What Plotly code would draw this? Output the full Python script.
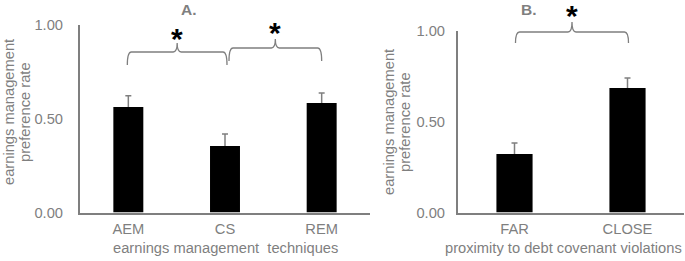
import plotly.graph_objects as go

# ---------------- data ----------------
cat_a = ["AEM", "CS", "REM"]
val_a = [0.563, 0.355, 0.584]
err_a = [0.060, 0.064, 0.053]

cat_b = ["FAR", "CLOSE"]
val_b = [0.322, 0.686]
err_b = [0.061, 0.055]

y_tickvals = [0.0, 0.5, 1.0]
y_ticktext = ["0.00", "0.50", "1.00"]

sig_a = [(0, 1), (1, 2)]
sig_b = [(0, 1)]

title_a = "A."
title_b = "B."
ytitle_l1 = "earnings management"
ytitle_l2 = "preference rate"
xtitle_a = "earnings management  techniques"
xtitle_b = "proximity to debt covenant violations"

# ---------------- style ----------------
W, H = 685, 261
GRAY = "#7f7f7f"
FONT = "Liberation Sans, Arial, sans-serif"
FS = 14.7

xa_dom = [80 / W, 370 / W]
xb_dom = [458 / W, 684 / W]
ya_dom = [1 - 212.5 / H, 1 - 25 / H]
yb_dom = [1 - 212.5 / H, 1 - 31 / H]


def px_x(dom, i, n):
    return (dom[0] + (i + 0.5) / n * (dom[1] - dom[0])) * W


def fx(p):
    return p / W


def fy(p):
    return 1 - p / H


def brace_path(x0, x1, yh, yb, yp, r=4):
    xm = (x0 + x1) / 2
    pts = [
        f"M{fx(x0)},{fy(yb)}",
        f"Q{fx(x0)},{fy(yh)} {fx(x0 + r)},{fy(yh)}",
        f"L{fx(xm - r)},{fy(yh)}",
        f"Q{fx(xm)},{fy(yh)} {fx(xm)},{fy(yp)}",
        f"Q{fx(xm)},{fy(yh)} {fx(xm + r)},{fy(yh)}",
        f"L{fx(x1 - r)},{fy(yh)}",
        f"Q{fx(x1)},{fy(yh)} {fx(x1)},{fy(yb)}",
    ]
    return " ".join(pts)


fig = go.Figure()

err_style = dict(type="data", symmetric=True, color=GRAY, thickness=1.5, width=3)

# error bars on a transparent bar trace underneath, so the black bars hide the lower half
fig.add_trace(go.Bar(
    x=cat_a, y=val_a, width=0.31, marker=dict(color="rgba(0,0,0,0)", line=dict(width=0)),
    error_y=dict(array=err_a, **err_style), xaxis="x", yaxis="y", hoverinfo="skip",
))
fig.add_trace(go.Bar(
    x=cat_a, y=val_a, width=0.31, marker=dict(color="black", line=dict(width=0)),
    xaxis="x", yaxis="y", hoverinfo="x+y",
))
fig.add_trace(go.Bar(
    x=cat_b, y=val_b, width=0.32, marker=dict(color="rgba(0,0,0,0)", line=dict(width=0)),
    error_y=dict(array=err_b, **err_style), xaxis="x2", yaxis="y2", hoverinfo="skip",
))
fig.add_trace(go.Bar(
    x=cat_b, y=val_b, width=0.32, marker=dict(color="black", line=dict(width=0)),
    xaxis="x2", yaxis="y2", hoverinfo="x+y",
))

axis_common = dict(
    showline=True, linecolor=GRAY, linewidth=2, showgrid=False, zeroline=False,
    ticks="", tickfont=dict(family=FONT, size=FS, color=GRAY), fixedrange=True,
    automargin=False,
)

fig.update_layout(
    width=W, height=H,
    margin=dict(l=0, r=0, t=0, b=0, autoexpand=False),
    paper_bgcolor="white", plot_bgcolor="white",
    showlegend=False, barmode="overlay",
    xaxis=dict(domain=xa_dom, anchor="y", range=[-0.5, 2.5], ticklabelstandoff=2, **axis_common),
    yaxis=dict(domain=ya_dom, anchor="x", range=[0, 1], tickvals=y_tickvals, ticktext=y_ticktext,
               ticklabelstandoff=12, **axis_common),
    xaxis2=dict(domain=xb_dom, anchor="y2", range=[-0.5, 1.5], ticklabelstandoff=2, **axis_common),
    yaxis2=dict(domain=yb_dom, anchor="x2", range=[0, 1], tickvals=y_tickvals, ticktext=y_ticktext,
                ticklabelstandoff=8, **axis_common),
)

# braces + asterisks
shapes = []
annotations = []
brace_geo_a = [dict(o0=-1, o1=2, yh=52, yb=65, yp=43, ya=34),
               dict(o0=4, o1=0, yh=48, yb=61, yp=39, ya=29)]
brace_geo_b = [dict(o0=1, o1=1, yh=32, yb=43, yp=22, ya=11)]

star_font = dict(family=FONT, size=30, color="black")

for (i, j), g in zip(sig_a, brace_geo_a):
    x0 = px_x(xa_dom, i, len(cat_a)) + g["o0"]
    x1 = px_x(xa_dom, j, len(cat_a)) + g["o1"]
    shapes.append(dict(type="path", xref="paper", yref="paper",
                       path=brace_path(x0, x1, g["yh"], g["yb"], g["yp"]),
                       line=dict(color=GRAY, width=1.3)))
    annotations.append(dict(x=fx((x0 + x1) / 2), y=fy(g["ya"] + 4), xref="paper", yref="paper",
                            text="<b>*</b>", showarrow=False, xanchor="center", yanchor="middle",
                            font=star_font))

for (i, j), g in zip(sig_b, brace_geo_b):
    x0 = px_x(xb_dom, i, len(cat_b)) + g["o0"]
    x1 = px_x(xb_dom, j, len(cat_b)) + g["o1"]
    shapes.append(dict(type="path", xref="paper", yref="paper",
                       path=brace_path(x0, x1, g["yh"], g["yb"], g["yp"]),
                       line=dict(color=GRAY, width=1.3)))
    annotations.append(dict(x=fx((x0 + x1) / 2), y=fy(g["ya"] + 4), xref="paper", yref="paper",
                            text="<b>*</b>", showarrow=False, xanchor="center", yanchor="middle",
                            font=star_font))

txt = dict(xref="paper", yref="paper", showarrow=False, xanchor="center", yanchor="middle")
gfont = dict(family=FONT, size=FS, color=GRAY)
annotations += [
    dict(x=fx(189), y=fy(10), text=f"<b>{title_a}</b>", font=dict(family=FONT, size=15.5, color=GRAY), **txt),
    dict(x=fx(529), y=fy(10), text=f"<b>{title_b}</b>", font=dict(family=FONT, size=15.5, color=GRAY), **txt),
    dict(x=fx(225), y=fy(248), text=xtitle_a, font=gfont, **txt),
    dict(x=fx(563), y=fy(248), text=xtitle_b, font=gfont, **txt),
    dict(x=fx(9), y=fy(112), text=ytitle_l1, textangle=-90, font=gfont, **txt),
    dict(x=fx(25), y=fy(112), text=ytitle_l2, textangle=-90, font=gfont, **txt),
    dict(x=fx(389), y=fy(122), text=ytitle_l1, textangle=-90, font=gfont, **txt),
    dict(x=fx(405), y=fy(122), text=ytitle_l2, textangle=-90, font=gfont, **txt),
]

fig.update_layout(shapes=shapes, annotations=annotations)
# remove the browser's default 8px page margin so the figure sits at the window's top-left
fig.write_html("out.html", config={"displayModeBar": False},
               post_script="document.body.style.margin='0';document.body.style.padding='0';")
